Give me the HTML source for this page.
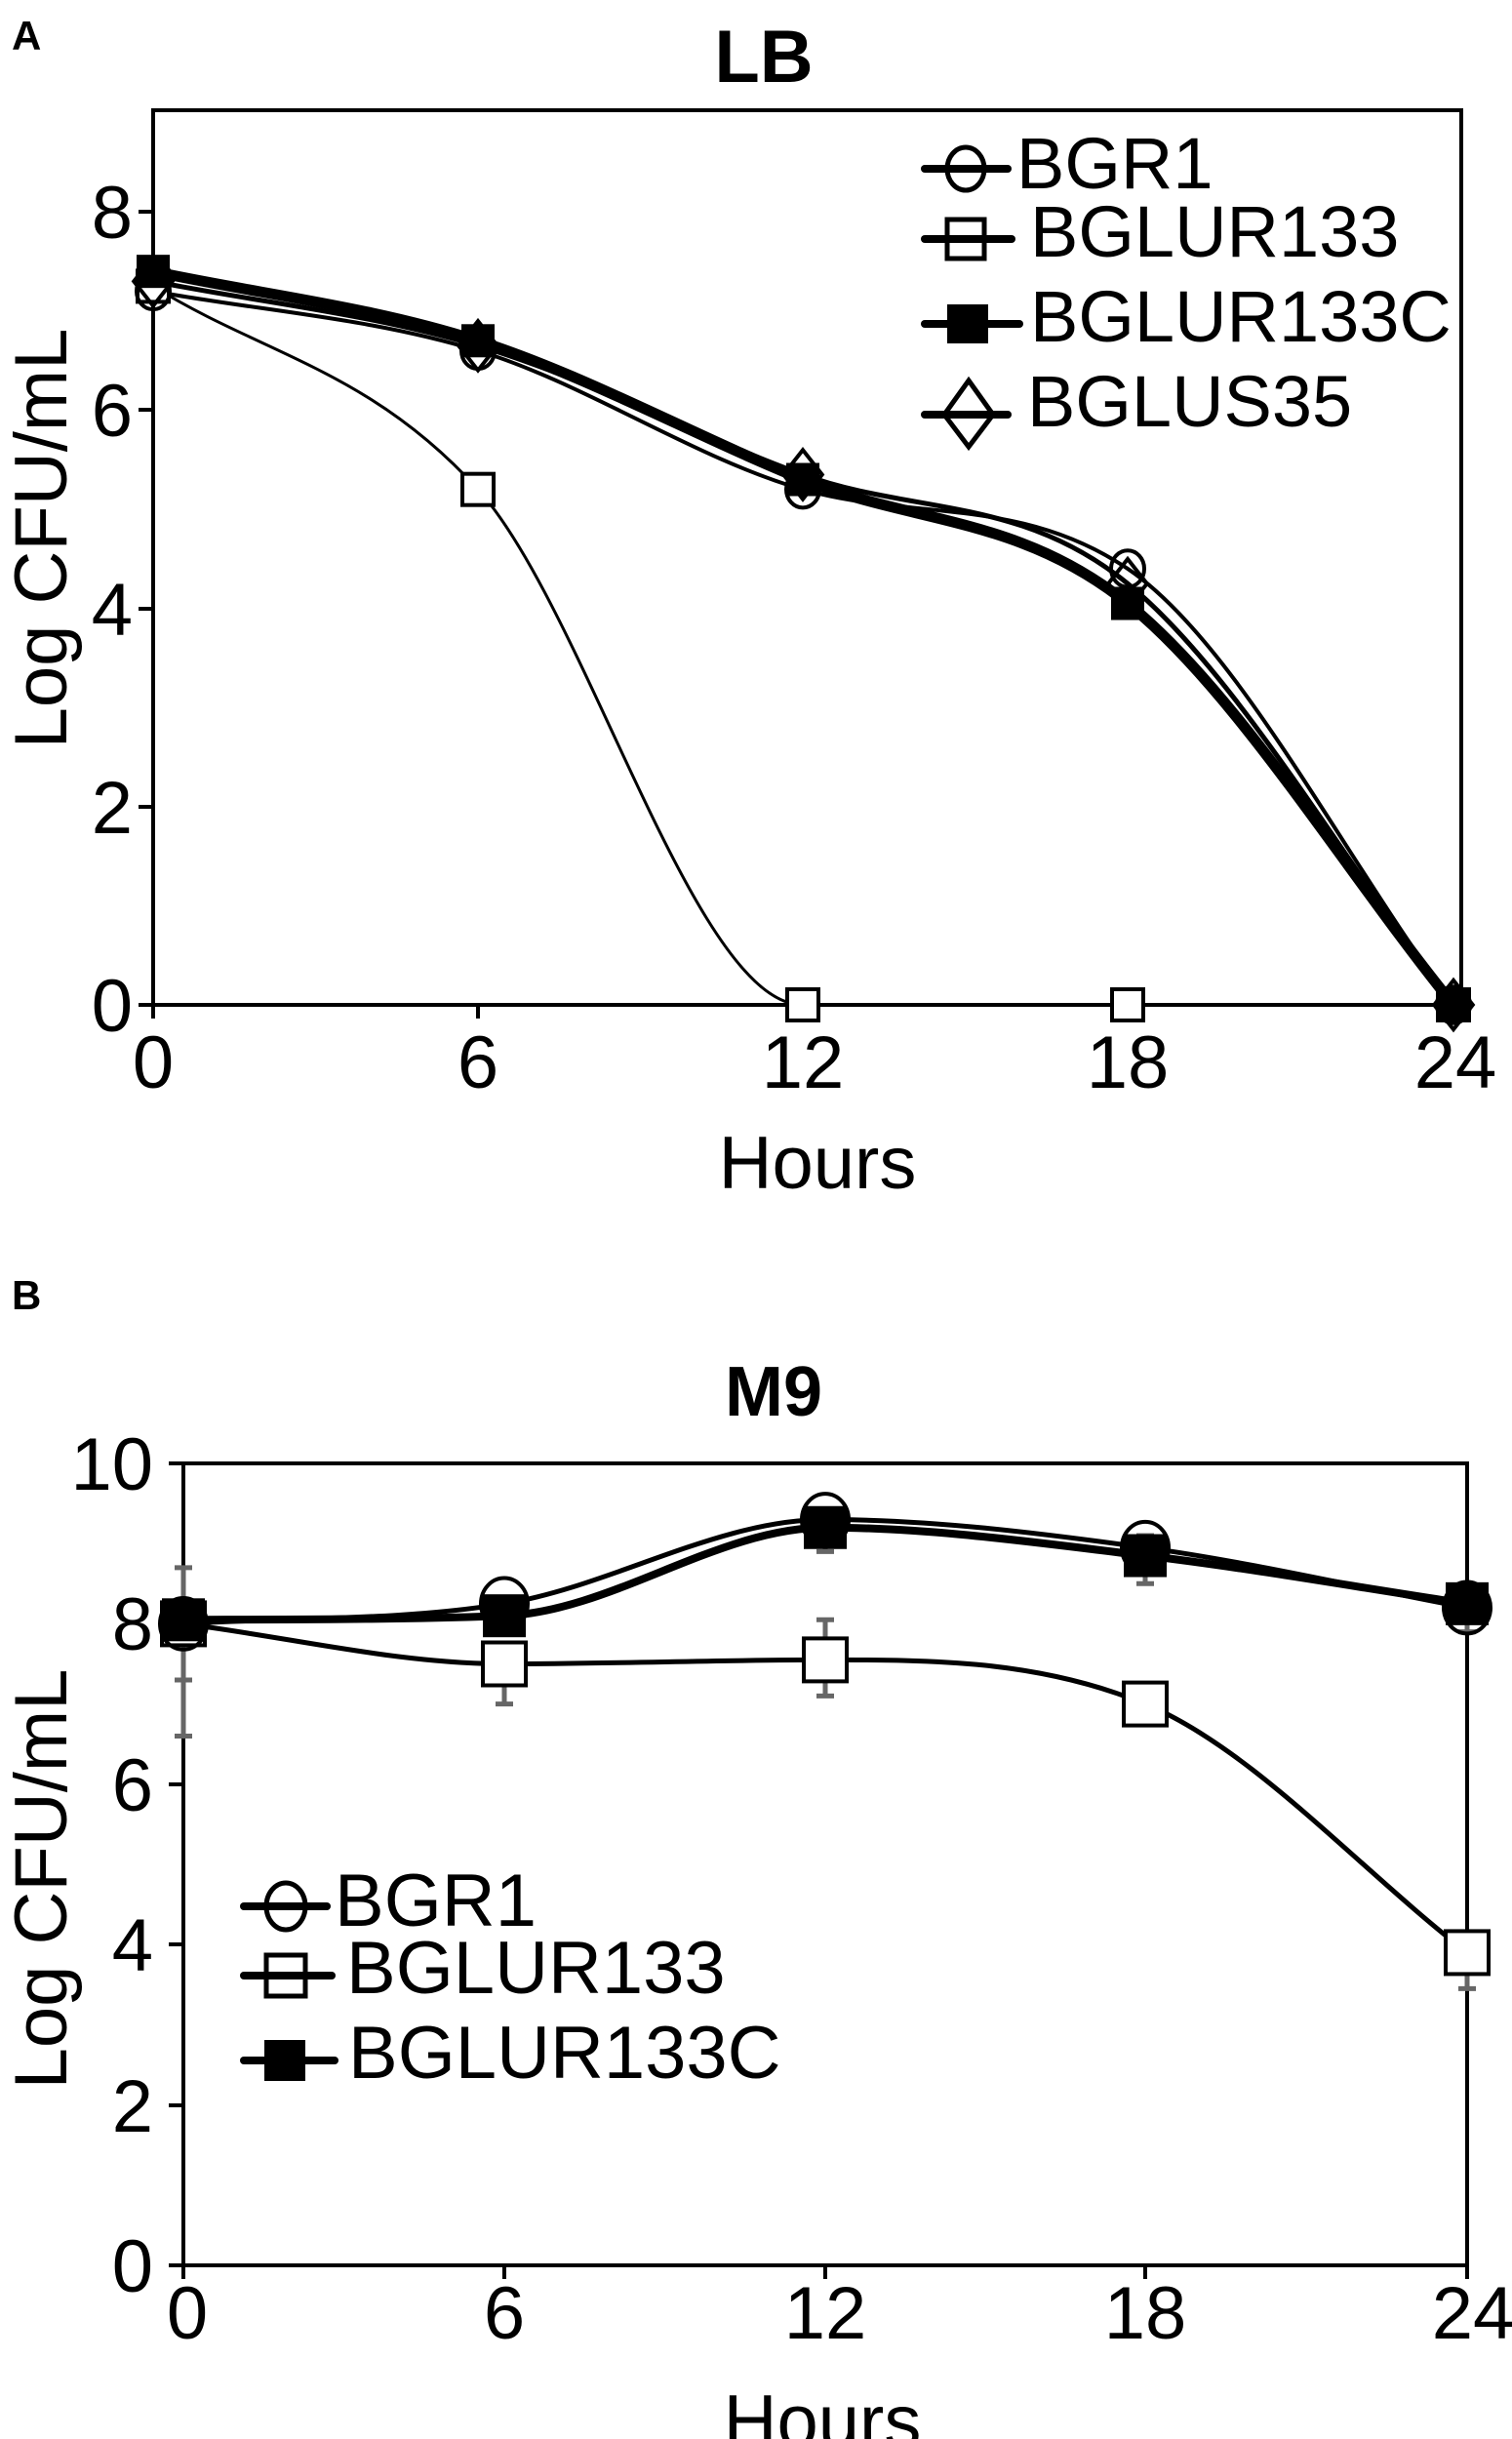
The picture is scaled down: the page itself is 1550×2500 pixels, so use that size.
<!DOCTYPE html>
<html><head><meta charset="utf-8">
<style>
html,body{margin:0;padding:0;background:#fff;}
svg{display:block;}
text{font-family:"Liberation Sans",Arial,sans-serif;fill:#000;}
</style></head>
<body>
<svg id="s" width="1550" height="2500" viewBox="0 0 1550 2500" xmlns="http://www.w3.org/2000/svg">
<rect width="1550" height="2500" fill="#fff"/>
<!-- Panel A -->
<text x="12" y="51" font-size="42" font-weight="bold">A</text>
<text x="783" y="84" font-size="76" font-weight="bold" text-anchor="middle">LB</text>
<rect x="157" y="113" width="1341" height="917" fill="none" stroke="#000" stroke-width="4"/>
<g stroke="#000" stroke-width="4">
<line x1="142" y1="217" x2="157" y2="217"/><line x1="142" y1="420" x2="157" y2="420"/>
<line x1="142" y1="624" x2="157" y2="624"/><line x1="142" y1="827" x2="157" y2="827"/>
<line x1="142" y1="1030" x2="157" y2="1030"/>
<line x1="157" y1="1030" x2="157" y2="1044"/><line x1="490" y1="1030" x2="490" y2="1044"/>
<line x1="823" y1="1030" x2="823" y2="1044"/><line x1="1156" y1="1030" x2="1156" y2="1044"/>
<line x1="1490" y1="1030" x2="1490" y2="1044"/>
</g>
<g font-size="76" text-anchor="end">
<text x="136" y="244">8</text><text x="136" y="447">6</text><text x="136" y="651">4</text>
<text x="136" y="854">2</text><text x="136" y="1057">0</text>
</g>
<g font-size="76" text-anchor="middle">
<text x="157" y="1115">0</text><text x="490" y="1115">6</text><text x="823" y="1115">12</text>
<text x="1156" y="1115">18</text><text x="1492" y="1115">24</text>
<text x="838" y="1218">Hours</text>
</g>
<text transform="translate(68,552) rotate(-90)" font-size="76" text-anchor="middle">Log CFU/mL</text>
<g id="A"></g>
<!-- legend A -->
<g stroke="#000" stroke-width="8" stroke-linecap="round" fill="none">
<line x1="948" y1="173" x2="1033" y2="173"/>
<line x1="948" y1="245" x2="1037" y2="245"/>
<line x1="948" y1="332" x2="1045" y2="332"/>
<line x1="948" y1="425" x2="1033" y2="425"/>
</g>
<ellipse cx="990" cy="173" rx="19" ry="22" fill="none" stroke="#000" stroke-width="5"/>
<rect x="971" y="225" width="38" height="40" fill="none" stroke="#000" stroke-width="5"/>
<rect x="971" y="312" width="42" height="40" fill="#000"/>
<polygon points="993,390 1018,425 993,458 968,425" fill="none" stroke="#000" stroke-width="5"/>
<g font-size="74">
<text x="1042" y="193">BGR1</text>
<text x="1056" y="263">BGLUR133</text>
<text x="1056" y="350">BGLUR133C</text>
<text x="1053" y="437">BGLUS35</text>
</g>

<!-- Panel B -->
<text x="12" y="1342" font-size="42" font-weight="bold">B</text>
<text x="793" y="1451" font-size="72" font-weight="bold" text-anchor="middle">M9</text>
<rect x="188" y="1500" width="1316" height="822" fill="none" stroke="#000" stroke-width="4"/>
<g stroke="#000" stroke-width="4">
<line x1="173" y1="1500" x2="188" y2="1500"/><line x1="173" y1="1664" x2="188" y2="1664"/>
<line x1="173" y1="1829" x2="188" y2="1829"/><line x1="173" y1="1993" x2="188" y2="1993"/>
<line x1="173" y1="2158" x2="188" y2="2158"/><line x1="173" y1="2322" x2="188" y2="2322"/>
<line x1="188" y1="2322" x2="188" y2="2336"/><line x1="517" y1="2322" x2="517" y2="2336"/>
<line x1="846" y1="2322" x2="846" y2="2336"/><line x1="1174" y1="2322" x2="1174" y2="2336"/>
<line x1="1504" y1="2322" x2="1504" y2="2336"/>
</g>
<g font-size="76" text-anchor="end">
<text x="157" y="1527">10</text><text x="157" y="1691">8</text><text x="157" y="1856">6</text>
<text x="157" y="2020">4</text><text x="157" y="2185">2</text><text x="157" y="2349">0</text>
</g>
<g font-size="76" text-anchor="middle">
<text x="192" y="2397">0</text><text x="517" y="2397">6</text><text x="846" y="2397">12</text>
<text x="1174" y="2397">18</text><text x="1510" y="2397">24</text>
<text x="843" y="2508">Hours</text>
</g>
<text transform="translate(68,1926) rotate(-90)" font-size="76" text-anchor="middle">Log CFU/mL</text>
<g id="B"></g>
<!-- legend B -->
<g stroke="#000" stroke-width="8" stroke-linecap="round" fill="none">
<line x1="250" y1="1954" x2="335" y2="1954"/>
<line x1="250" y1="2025" x2="340" y2="2025"/>
<line x1="250" y1="2112" x2="343" y2="2112"/>
</g>
<ellipse cx="293" cy="1954" rx="20" ry="24" fill="none" stroke="#000" stroke-width="5"/>
<rect x="273" y="2004" width="40" height="42" fill="none" stroke="#000" stroke-width="5"/>
<rect x="271" y="2091" width="42" height="42" fill="#000"/>
<g font-size="76">
<text x="343" y="1974">BGR1</text>
<text x="355" y="2043">BGLUR133</text>
<text x="357" y="2130">BGLUR133C</text>
</g>
</svg>
<script>
var NS="http://www.w3.org/2000/svg";
function el(t,a,p){var e=document.createElementNS(NS,t);for(var k in a)e.setAttribute(k,a[k]);p.appendChild(e);return e;}
function mono(P){var n=P.length,d=[],m=[];for(var i=0;i<n-1;i++)d.push((P[i+1][1]-P[i][1])/(P[i+1][0]-P[i][0]));
m[0]=d[0];m[n-1]=d[n-2];for(i=1;i<n-1;i++){m[i]=(d[i-1]*d[i]<=0)?0:(d[i-1]+d[i])/2;}
for(i=0;i<n-1;i++){if(d[i]==0){m[i]=0;m[i+1]=0;continue;}var a=m[i]/d[i],b=m[i+1]/d[i],s=a*a+b*b;if(s>9){var t=3/Math.sqrt(s);m[i]=t*a*d[i];m[i+1]=t*b*d[i];}}
var s="M"+P[0][0]+","+P[0][1];for(i=0;i<n-1;i++){var h=(P[i+1][0]-P[i][0])/3;
s+=" C"+(P[i][0]+h)+","+(P[i][1]+m[i]*h)+" "+(P[i+1][0]-h)+","+(P[i+1][1]-m[i+1]*h)+" "+P[i+1][0]+","+P[i+1][1];}return s;}
function draw(g,xs,y0,k,series){
 series.forEach(function(S){var P=S.v.map(function(v,i){return [xs[i],y0-v*k];});
  el("path",{d:mono(P),fill:"none",stroke:"#000","stroke-width":S.w},g);});
 series.forEach(function(S){S.v.forEach(function(v,i){var x=xs[i],y=y0-v*k,r=S.r;
  if(S.m=="c")el("ellipse",{cx:x,cy:y,rx:r,ry:r*1.1,fill:"none",stroke:"#000","stroke-width":4},g);
  if(S.m=="s")el("rect",{x:x-r,y:y-r,width:2*r,height:2*r,fill:"#fff",stroke:"#000","stroke-width":4},g);
  if(S.m=="f")el("rect",{x:x-r,y:y-r,width:2*r,height:2*r,fill:"#000"},g);
  if(S.m=="d")el("polygon",{points:x+","+(y-r*1.4)+" "+(x+r*1.1)+","+y+" "+x+","+(y+r*1.4)+" "+(x-r*1.1)+","+y,fill:"none",stroke:"#000","stroke-width":4},g);
 });});
}
var gA=document.getElementById("A"),gB=document.getElementById("B");
draw(gA,[157,490,823,1156,1490],1030,101.6,[
 {v:[7.25,5.2,0,0,0],w:3,m:"s",r:16},
 {v:[7.2,6.6,5.2,4.4,0],w:4,m:"c",r:17},
 {v:[7.3,6.65,5.35,4.25,0],w:5,m:"d",r:18},
 {v:[7.4,6.7,5.3,4.05,0],w:11,m:"f",r:17}
]);
// error bars B
var eb=[[188,8.7,6.6],[517,7.7,7.0],[846,8.05,7.1],[1174,7.15,6.85],[1504,4.1,3.45],[846,9.3,8.9],[1174,9.1,8.5],[1504,8.4,7.9]];
eb.forEach(function(e){var y1=2322-e[1]*82.2,y2=2322-e[2]*82.2;
 el("line",{x1:e[0],y1:y1,x2:e[0],y2:y2,stroke:"#666","stroke-width":5},gB);
 el("line",{x1:e[0]-9,y1:y1,x2:e[0]+9,y2:y1,stroke:"#666","stroke-width":5},gB);
 el("line",{x1:e[0]-9,y1:y2,x2:e[0]+9,y2:y2,stroke:"#666","stroke-width":5},gB);});
el("line",{x1:179,y1:2322-7.3*82.2,x2:197,y2:2322-7.3*82.2,stroke:"#666","stroke-width":5},gB);
draw(gB,[188,517,846,1174,1504],2322,82.2,[
 {v:[8.0,7.5,7.55,7.0,3.9],w:5,m:"s",r:22},
 {v:[8.0,8.25,9.3,8.95,8.2],w:5,m:"c",r:24},
 {v:[8.05,8.1,9.2,8.85,8.25],w:8,m:"f",r:22}
]);
</script>
</body></html>
